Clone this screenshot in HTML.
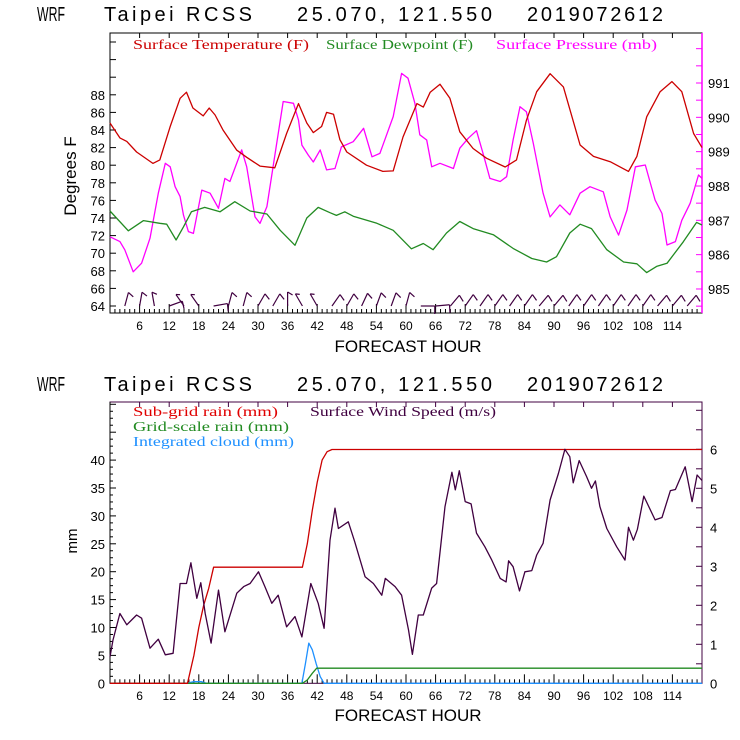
<!DOCTYPE html>
<html><head><meta charset="utf-8"><style>
html,body{margin:0;padding:0;background:#fff;}
svg{display:block;}
text{font-family:"Liberation Sans",sans-serif;}
.serif{font-family:"Liberation Serif",serif;}
</style></head><body>
<svg id="chart" width="740" height="740" viewBox="0 0 740 740" xmlns="http://www.w3.org/2000/svg">
<rect x="0" y="0" width="740" height="740" fill="#fff"/>
<g font-size="20">
<text x="37" y="21" textLength="28" lengthAdjust="spacingAndGlyphs">WRF</text>
<text x="104" y="21" textLength="148" lengthAdjust="spacing">Taipei RCSS</text>
<text x="297" y="21" textLength="195" lengthAdjust="spacing">25.070, 121.550</text>
<text x="527" y="21" textLength="136" lengthAdjust="spacing">2019072612</text>
</g>
<g font-size="20">
<text x="37" y="391" textLength="28" lengthAdjust="spacingAndGlyphs">WRF</text>
<text x="104" y="391" textLength="148" lengthAdjust="spacing">Taipei RCSS</text>
<text x="297" y="391" textLength="195" lengthAdjust="spacing">25.070, 121.550</text>
<text x="527" y="391" textLength="136" lengthAdjust="spacing">2019072612</text>
</g>
<text class="serif" x="133" y="49" font-size="14" fill="#cc0000" textLength="176" lengthAdjust="spacingAndGlyphs">Surface Temperature (F)</text>
<text class="serif" x="326" y="49" font-size="14" fill="#228b22" textLength="147" lengthAdjust="spacingAndGlyphs">Surface Dewpoint (F)</text>
<text class="serif" x="496" y="49" font-size="14" fill="#ff00ff" textLength="161" lengthAdjust="spacingAndGlyphs">Surface Pressure (mb)</text>
<text x="76" y="176" font-size="17" text-anchor="middle" transform="rotate(-90 76 176)">Degrees F</text>
<text x="408" y="352" font-size="17" text-anchor="middle">FORECAST HOUR</text>
<text class="serif" x="133" y="416" font-size="14" fill="#e00000" textLength="145" lengthAdjust="spacingAndGlyphs">Sub-grid rain (mm)</text>
<text class="serif" x="310" y="416" font-size="14" fill="#400040" textLength="186" lengthAdjust="spacingAndGlyphs">Surface Wind Speed (m/s)</text>
<text class="serif" x="133" y="431" font-size="14" fill="#228b22" textLength="156" lengthAdjust="spacingAndGlyphs">Grid-scale rain (mm)</text>
<text class="serif" x="133" y="446" font-size="14" fill="#1e90ff" textLength="161" lengthAdjust="spacingAndGlyphs">Integrated cloud (mm)</text>
<text x="77" y="541" font-size="15" text-anchor="middle" transform="rotate(-90 77 541)">mm</text>
<text x="408" y="721" font-size="17" text-anchor="middle">FORECAST HOUR</text>
<g id="g"></g>
</svg>
<script>
// ---- data ----
const tempHours=[0,2,3.4,5.4,8.7,10.1,12.2,14.2,15.5,16.8,18.9,20.1,21.3,22.9,25.7,27.7,30.4,33.4,35.8,38.2,39.9,41.2,42.9,43.9,45.3,46.6,48,52,55.3,57.4,59.4,62.2,63.5,64.9,66.9,68.9,70.9,73.6,76.3,80.1,82.4,84.4,86.5,89.2,91.9,95.3,98,101.4,105.1,106.8,108.8,111.5,113.9,115.9,118.3,120];
const tempValues=[84.8,83.1,82.7,81.5,80.2,80.6,84.4,87.6,88.3,86.5,85.6,86.5,85.7,84,81.7,80.9,79.9,79.7,83.6,87,84.8,83.7,84.4,86,85.8,82.9,81.5,80,79.3,79.35,83.2,87,86.6,88.3,89.2,87.6,83.8,81.9,80.8,79.8,80.6,85.1,88.35,90.4,88.9,82.3,81,80.4,79.3,81,85.5,88.35,89.5,88.35,83.6,82];
const dewHours=[0,3.7,6.8,10.1,11.5,13.4,14.9,16.5,19.2,22.3,25.3,28.4,31.8,34.5,37.5,39.9,42.2,44.6,45.9,47.6,49.3,54.1,57.4,61.1,63.5,65.5,68.2,70.9,73.6,77.7,81.7,85.5,88.5,90.5,93.2,95.3,97.6,100.7,104.1,106.8,108.8,110.8,112.9,116.2,118.9,120];
const dewValues=[74.8,72.55,73.7,73.4,73.3,71.5,73,74.7,75.2,74.7,75.85,74.8,74.45,72.6,70.9,74,75.2,74.6,74.3,74.7,74.2,73.4,72.6,70.5,71.1,70.4,72.3,73.6,72.8,72.1,70.55,69.4,69,69.6,72.3,73.3,72.8,70.4,69,68.8,67.8,68.5,68.85,71.3,73.5,73.2];
const presHours=[0,2,3,4.7,6.4,8.1,9.8,11.2,12.2,13.2,14.2,14.9,15.9,16.9,18.6,20.3,22,23.3,24.3,26.7,27.7,29.4,30.4,31.8,33.8,35.1,37.2,38.2,38.9,40.2,41.2,42.6,43.9,45.6,46.9,49.3,51.4,53.1,54.7,57.4,59.1,60.4,61.8,62.8,64.2,65.2,66.9,69.6,70.9,72.6,74.3,75.7,77,79.1,80.4,81.7,83.1,84.4,85.8,87.8,89.2,91.2,93.2,95.3,97.3,100,101.4,103.1,104.8,106.5,108.5,110.5,111.9,112.9,114.6,115.9,117.6,119.3,120];
const presValues=[986.52,986.38,986.14,985.5,985.75,986.48,987.79,988.66,988.56,987.98,987.69,987.15,986.67,986.62,987.88,987.79,987.35,988.22,988.13,989.05,988.56,987.1,986.91,987.4,989.24,990.46,990.41,989.92,989.19,988.9,988.7,989.05,988.47,988.51,989.14,989.29,989.68,988.85,988.95,990.02,991.28,991.14,990.41,989.49,989.34,988.56,988.66,988.51,989.1,989.39,989.61,988.9,988.22,988.13,988.27,989.34,990.31,990.16,989.24,987.79,987.1,987.45,987.16,987.79,987.98,987.83,987.1,986.57,987.3,988.56,988.61,987.59,987.2,986.28,986.38,987,987.5,988.32,988.22];
const barbHours=[3,6,9,12,15,18,21,24,27,30,33,36,39,42,45,48,51,54,57,60,63,66,69,72,75,78,81,84,87,90,93,96,99,102,105,108,111,114,117];
const barbAngles=[-15,-10,10,-70,35,35,-80,-15,-15,-30,-30,0,30,30,-35,-30,-25,-20,-20,-15,-90,-85,-40,-35,-35,-35,-35,-35,-40,-40,-35,-35,-35,-35,-35,-35,-40,-40,-40];
const windHours=[0,0.6,2,3.4,5.4,6.4,8.1,9.8,11.2,12.8,14.2,15.5,16.4,17.6,18.4,19.3,20.5,22,23.3,25.7,27.1,28.4,30.1,31.4,32.8,34.1,35.8,37.5,38.9,40.7,42.2,43.4,44.6,45.6,46.3,48.3,49.6,51.7,53.4,55.1,55.8,57.8,59.1,60.5,61.3,62.5,63.5,65.2,66.2,67.9,69.3,70,70.8,72,73.2,74.3,76,77.4,79.1,80.3,80.8,81.7,83,84.1,85.5,86.5,87.8,89.2,90.9,92.2,93.2,93.9,95.1,96.6,97.6,98.4,99.3,100.7,102.7,104.4,105.1,106.1,106.9,108.2,110.5,111.9,113.6,114.6,116.6,118,119,120];
const windValues=[0.68,1.11,1.79,1.5,1.75,1.67,0.9,1.13,0.73,0.77,2.56,2.56,3.09,2.18,2.58,1.79,1.03,2.39,1.32,2.31,2.48,2.56,2.86,2.48,2.05,2.26,1.45,1.71,1.19,2.56,2.05,1.41,3.67,4.49,3.97,4.14,3.63,2.73,2.56,2.26,2.69,2.48,2.26,1.37,0.74,1.75,1.75,2.44,2.56,4.53,5.41,4.96,5.45,4.66,4.6,3.85,3.5,3.16,2.69,2.6,3.14,2.99,2.37,2.86,2.89,3.29,3.59,4.7,5.38,6,5.81,5.14,5.71,5.3,5,5.19,4.53,3.97,3.5,3.16,4,3.67,3.95,4.8,4.19,4.25,4.94,4.97,5.55,4.66,5.34,5.2];
const subHours=[0,15.7,17,18,19,20,21,39,40,41,42,43,44,45,120];
const subValues=[0,0,5,10,14,17,20.8,20.8,25,31,36,40,41.5,41.9,41.9];
const gridHours=[0,39,40,41,41.9,120];
const gridValues=[0,0,0.6,1.8,2.7,2.7];
const cloudHours=[0,15.5,17,18.5,19.5,38.9,39.6,40.3,41,41.8,42.6,43.4,120];
const cloudValues=[0,0,0.3,0.3,0,0,3.5,7.2,6,3.5,1.2,0,0];
const hourTicks=[6,12,18,24,30,36,42,48,54,60,66,72,78,84,90,96,102,108,114];
const tempTicks=[64,66,68,70,72,74,76,78,80,82,84,86,88];
const presTicks=[985,986,987,988,989,990,991];
const mmTicks=[0,5,10,15,20,25,30,35,40];
const msTicks=[0,1,2,3,4,5,6];

// ---- layout & scales ----
const X0=110,X1=702;
const xs=h=>X0+(X1-X0)*h/120;
const yT=v=>306-(v-64)*8.8;
const yP=v=>83+(991-v)*34.33;
const yMM=v=>683.3-v*5.58;
const yMS=v=>683.3-v*39;
const NS="http://www.w3.org/2000/svg";
const g=document.getElementById('g');
function mk(tag,attrs){const e=document.createElementNS(NS,tag);for(const k in attrs)e.setAttribute(k,attrs[k]);g.appendChild(e);return e;}
function line(x1,y1,x2,y2,c,w){return mk('line',{x1:x1,y1:y1,x2:x2,y2:y2,stroke:c,'stroke-width':w||1});}
function txt(x,y,s,anchor,size,c){const t=mk('text',{x:x,y:y,'font-size':size||12,'text-anchor':anchor||'middle',fill:c||'#000'});t.textContent=s;return t;}
function series(hs,vs,ys,c){let d='';for(let i=0;i<hs.length;i++)d+=(i?'L':'M')+xs(hs[i]).toFixed(1)+' '+ys(vs[i]).toFixed(1);return mk('path',{d:d,fill:'none',stroke:c,'stroke-width':1.3,'stroke-linejoin':'round'});}

// ---- top panel ----
let e;
e=mk('rect',{x:X0,y:33,width:X1-X0,height:280,fill:'none',stroke:'#000','stroke-width':1});

e=line(X1,33,X1,313,'#ff00ff',1.5);

for(let v=64;v<=94;v+=2){e=line(X0,yT(v),X0+6,yT(v),'#000');}
tempTicks.forEach(v=>{e=txt(X0-5,yT(v)+5,String(v),'end',13);});
for(let v=984.5;v<=992.5;v+=0.5){if(yP(v)<33||yP(v)>313)continue;e=line(X1-6,yP(v),X1,yP(v),'#ff00ff');}
presTicks.forEach(v=>{e=txt(X1+6,yP(v)+5,String(v),'start',13);});
for(let h=1;h<120;h++){const L=h%6==0?9:4;e=line(xs(h),313,xs(h),313-L,'#000');}
for(let h=6;h<120;h+=6){e=line(xs(h),33,xs(h),38,'#000');}
hourTicks.forEach(h=>{e=txt(xs(h),330,String(h),'middle',12);});
e=series(presHours,presValues,yP,'#ff00ff');
e=series(dewHours,dewValues,yT,'#228b22');
e=series(tempHours,tempValues,yT,'#cc0000');
barbHours.forEach((h,i)=>{
  const a=barbAngles[i]*Math.PI/180, bx=xs(h), by=306, L=14;
  const tx=bx-Math.sin(a)*L, ty=by-Math.cos(a)*L;
  e=line(bx,by,tx,ty,'#400040',1.2);
  
  const b2=line(tx,ty,tx+Math.cos(a)*5,ty-Math.sin(a)*5+3,'#400040',1.2);
  
});

// ---- bottom panel ----
e=mk('rect',{x:X0,y:402,width:X1-X0,height:281.3,fill:'none',stroke:'#400040','stroke-width':1});

e=line(X0,402,X0,683.3,'#000',1);

for(let v=0;v<=50;v+=1.25){if(yMM(v)<402)continue;e=line(X0,yMM(v),X0+(v%5==0?6:3),yMM(v),'#000');}
mmTicks.forEach(v=>{e=txt(X0-5,yMM(v)+5,String(v),'end',13);});
for(let v=0.5;v<=7;v+=0.5){if(yMS(v)<402)continue;e=line(X1-6,yMS(v),X1,yMS(v),'#400040');}
msTicks.forEach(v=>{e=txt(X1+8,yMS(v)+5,String(v),'start',13);});
for(let h=1;h<120;h++){const L=h%6==0?9:4;e=line(xs(h),683.3,xs(h),683.3-L,'#000');}
for(let h=6;h<120;h+=6){e=line(xs(h),402,xs(h),407,'#400040');}
hourTicks.forEach(h=>{e=txt(xs(h),700,String(h),'middle',12);});
e=series(cloudHours,cloudValues,yMM,'#1e90ff');
e=series(gridHours,gridValues,yMM,'#228b22');
e=series(subHours,subValues,yMM,'#cc0000');
e=series(windHours,windValues,yMS,'#400040');
</script>
</body></html>
